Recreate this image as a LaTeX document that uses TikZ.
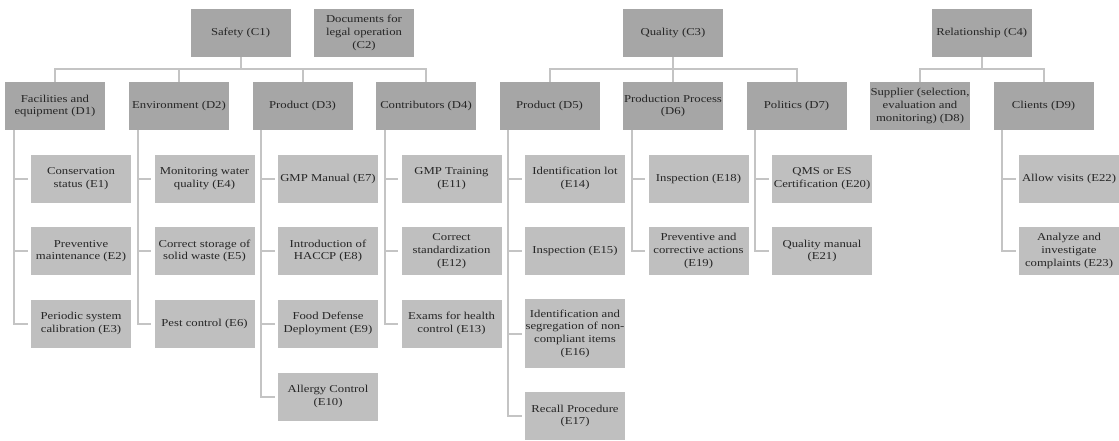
\documentclass[tikz,border=0pt]{standalone}
\usepackage{fontspec}
\setmainfont{Liberation Serif}
\newfontfamily\serifwide[FakeStretch=1.2]{Liberation Serif}
\definecolor{boxdark}{HTML}{A6A6A6}
\definecolor{boxlight}{HTML}{BFBFBF}
\definecolor{linkgray}{HTML}{C4C4C4}
\tikzset{
  box/.style={rectangle, inner sep=0pt, minimum width=100pt, minimum height=48pt,
              align=center, text=black!85, font=\serifwide\fontsize{10.6}{12.7}\selectfont},
  dbox/.style={box, fill=boxdark},
  ebox/.style={box, fill=boxlight},
  link/.style={draw=linkgray, line width=2pt},
  bus/.style={to path={-- ++(0,12) -| (\tikztotarget)}},
  elbow/.style={to path={|- (\tikztotarget)}, shorten >=3pt},
}
\begin{document}
\begin{tikzpicture}[x=1pt, y=-1pt]
  \useasboundingbox (0,0) rectangle (1119,440);
  % top level
  \node[dbox] (C1) at (240.5,33) {Safety (C1)};
  \node[dbox] (C2) at (364,33) {Documents for\\legal operation\\(C2)};
  \node[dbox] (C3) at (673,33) {Quality (C3)};
  \node[dbox] (C4) at (981.7,33) {Relationship (C4)};
  % second level
  \node[dbox] (D1) at (55,106) {Facilities and\\equipment (D1)};
  \node[dbox] (D2) at (179,106) {Environment (D2)};
  \node[dbox] (D3) at (302.5,106) {Product (D3)};
  \node[dbox] (D4) at (426,106) {Contributors (D4)};
  \node[dbox] (D5) at (549.5,106) {Product (D5)};
  \node[dbox] (D6) at (673,106) {Production Process\\(D6)};
  \node[dbox] (D7) at (796.5,106) {Politics (D7)};
  \node[dbox] (D8) at (920,106) {Supplier (selection,\\evaluation and\\monitoring) (D8)};
  \node[dbox] (D9) at (1043.5,106) {Clients (D9)};
  % third level
  \node[ebox] (E1) at (81,178.5) {Conservation\\status (E1)};
  \node[ebox] (E2) at (81,251) {Preventive\\maintenance (E2)};
  \node[ebox] (E3) at (81,323.5) {Periodic system\\calibration (E3)};
  \node[ebox] (E4) at (204.5,178.5) {Monitoring water\\quality (E4)};
  \node[ebox] (E5) at (204.5,251) {Correct storage of\\solid waste (E5)};
  \node[ebox] (E6) at (204.5,323.5) {Pest control (E6)};
  \node[ebox] (E7) at (328,178.5) {GMP Manual (E7)};
  \node[ebox] (E8) at (328,251) {Introduction of\\HACCP (E8)};
  \node[ebox] (E9) at (328,323.5) {Food Defense\\Deployment (E9)};
  \node[ebox] (E10) at (328,396.5) {Allergy Control\\(E10)};
  \node[ebox] (E11) at (451.5,178.5) {GMP Training\\(E11)};
  \node[ebox] (E12) at (451.5,251) {Correct\\standardization\\(E12)};
  \node[ebox] (E13) at (451.5,323.5) {Exams for health\\control (E13)};
  \node[ebox] (E14) at (575,178.5) {Identification lot\\(E14)};
  \node[ebox] (E15) at (575,251) {Inspection (E15)};
  \node[ebox, minimum height=69pt] (E16) at (575,333.5) {Identification and\\segregation of non-\\compliant items\\(E16)};
  \node[ebox] (E17) at (575,416) {Recall Procedure\\(E17)};
  \node[ebox] (E18) at (698.5,178.5) {Inspection (E18)};
  \node[ebox] (E19) at (698.5,251) {Preventive and\\corrective actions\\(E19)};
  \node[ebox] (E20) at (822,178.5) {QMS or ES\\Certification (E20)};
  \node[ebox] (E21) at (822,251) {Quality manual\\(E21)};
  \node[ebox] (E22) at (1069,178.5) {Allow visits (E22)};
  \node[ebox] (E23) at (1069,251) {Analyze and\\investigate\\complaints (E23)};
  % buses
  \draw[link] (C1.south) edge[bus] (D1.north) edge[bus] (D2.north)
                         edge[bus] (D3.north) edge[bus] (D4.north)
              (C3.south) edge[bus] (D5.north) edge[bus] (D6.north)
                         edge[bus] (D7.north)
              (C4.south) edge[bus] (D8.north) edge[bus] (D9.north);
  % branches
  \draw[link] ([xshift=9pt]D1.south west) edge[elbow] (E1.west) edge[elbow] (E2.west) edge[elbow] (E3.west)
              ([xshift=9pt]D2.south west) edge[elbow] (E4.west) edge[elbow] (E5.west) edge[elbow] (E6.west)
              ([xshift=9pt]D3.south west) edge[elbow] (E7.west) edge[elbow] (E8.west) edge[elbow] (E9.west)
                                          edge[elbow] (E10.west)
              ([xshift=9pt]D4.south west) edge[elbow] (E11.west) edge[elbow] (E12.west) edge[elbow] (E13.west)
              ([xshift=9pt]D5.south west) edge[elbow] (E14.west) edge[elbow] (E15.west) edge[elbow] (E16.west)
                                          edge[elbow] (E17.west)
              ([xshift=9pt]D6.south west) edge[elbow] (E18.west) edge[elbow] (E19.west)
              ([xshift=9pt]D7.south west) edge[elbow] (E20.west) edge[elbow] (E21.west)
              ([xshift=9pt]D9.south west) edge[elbow] (E22.west) edge[elbow] (E23.west);
\end{tikzpicture}
\end{document}
